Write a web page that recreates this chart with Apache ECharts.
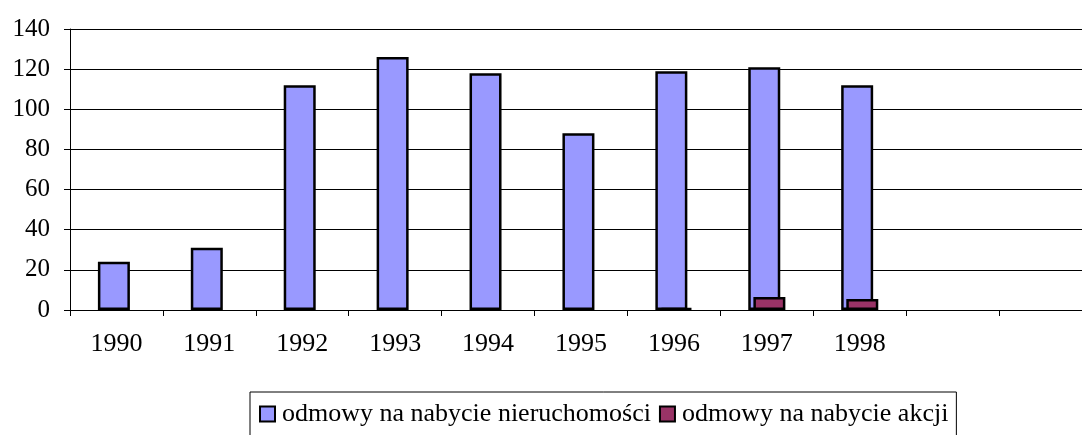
<!DOCTYPE html>
<html>
<head>
<meta charset="utf-8">
<script src="https://cdn.jsdelivr.net/npm/echarts@6/dist/echarts.min.js"></script>
<style>
html,body{margin:0;padding:0;background:#fff;overflow:hidden;width:1082px;height:435px;}
#c{width:1092px;height:435px;}
</style>
</head>
<body>
<div id="c"></div>
<script>
var categories = ['1990','1991','1992','1993','1994','1995','1996','1997','1998','',''];
var nieruchomosci = [24, 31, 112, 126, 118, 88, 119, 121, 112, null, null];
var akcje = [null, null, null, null, null, null, 1, 6.5, 5.5, null, null];
var seriesNames = ['odmowy na nabycie nieruchomości', 'odmowy na nabycie akcji'];
var yTicks = {min: 0, max: 140, interval: 20};

function toData(arr) {
  return arr.map(function (v) { return v === null ? '-' : v; });
}

var font = '"Liberation Serif", "Times New Roman", serif';
var chart = echarts.init(document.getElementById('c'), null, {renderer: 'canvas'});
chart.setOption({
  animation: false,
  backgroundColor: '#ffffff',
  grid: {left: 70, right: 0, top: 29, bottom: 125, containLabel: false},
  legend: {
    left: 250, top: 392,
    padding: [9, 8, 30, 9],
    borderColor: '#000', borderWidth: 1,
    itemWidth: 15, itemHeight: 15, itemGap: 8,
    icon: 'rect',
    textStyle: {fontFamily: font, fontSize: 26, color: '#000', padding: [0,0,0,2]},
    itemStyle: {borderColor: '#000', borderWidth: 2}
  },
  xAxis: {
    type: 'category', data: categories,
    axisLine: {show: true, lineStyle: {color: '#000', width: 1}},
    axisTick: {show: true, length: 6, lineStyle: {color: '#000'}, alignWithLabel: false},
    axisLabel: {fontFamily: font, fontSize: 26, color: '#000', margin: 21, interval: 0},
    splitLine: {show: false}
  },
  yAxis: {
    type: 'value', min: yTicks.min, max: yTicks.max, interval: yTicks.interval,
    axisLine: {show: true, lineStyle: {color: '#000', width: 1}},
    axisTick: {show: true, length: 6, lineStyle: {color: '#000'}},
    axisLabel: {fontFamily: font, fontSize: 25, color: '#000', margin: 20},
    splitLine: {show: true, lineStyle: {color: '#000', width: 1}}
  },
  series: [
    {
      name: seriesNames[0], type: 'bar', data: toData(nieruchomosci),
      barWidth: 32, barGap: '-84%',
      itemStyle: {color: '#9999FF', borderColor: '#000', borderWidth: 2.5}
    },
    {
      name: seriesNames[1], type: 'bar', data: toData(akcje),
      barWidth: 32,
      itemStyle: {color: '#993366', borderColor: '#000', borderWidth: 2.5}
    }
  ]
});
</script>
</body>
</html>
